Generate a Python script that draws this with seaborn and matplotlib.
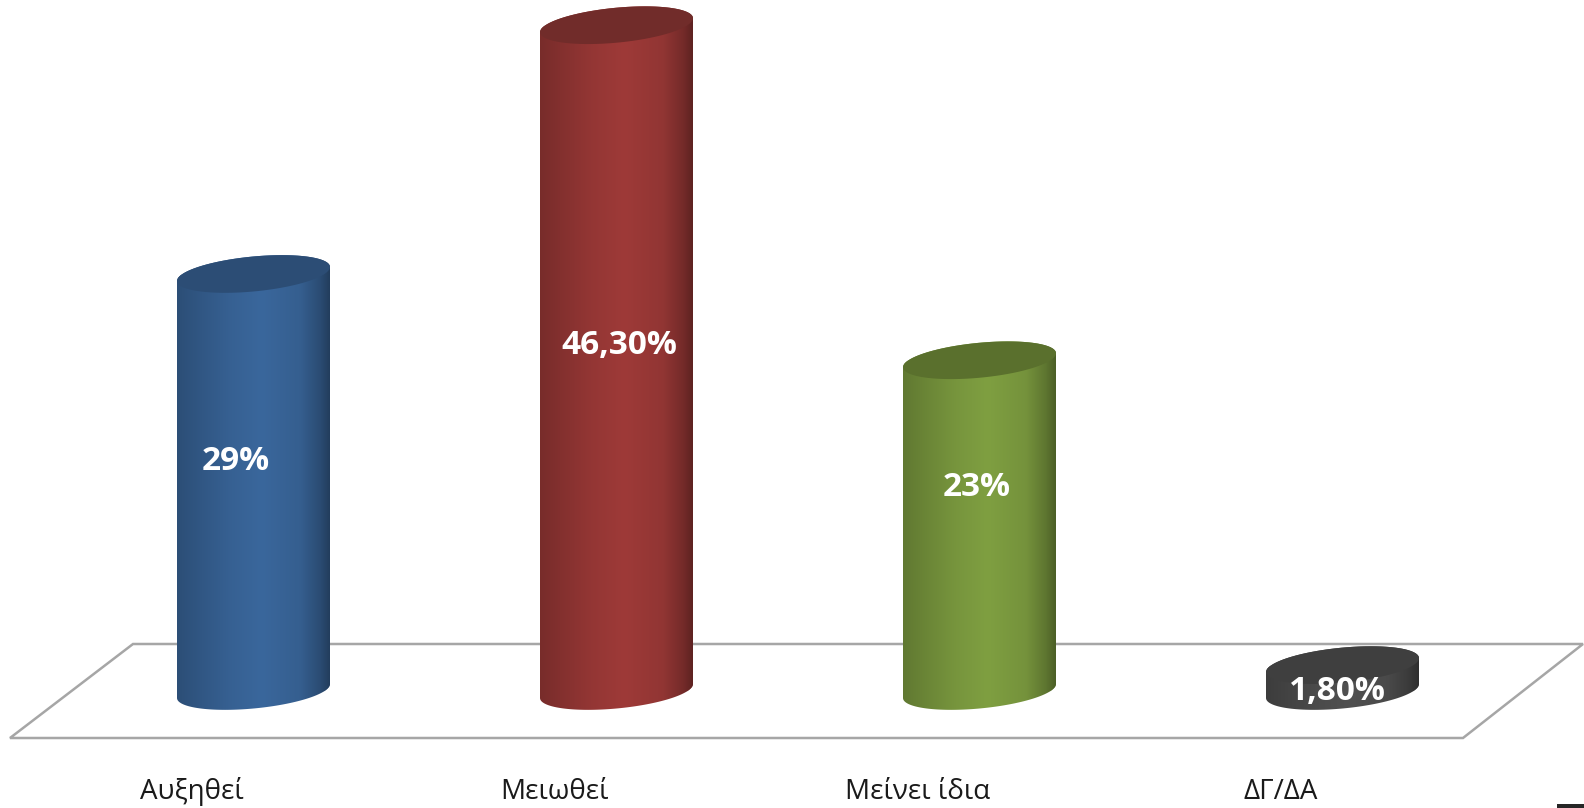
import numpy as np
import pandas as pd
import matplotlib
matplotlib.use("Agg")
import matplotlib.pyplot as plt
import seaborn as sns
from matplotlib.colors import LinearSegmentedColormap, to_rgb
from matplotlib.patches import PathPatch, Polygon
from matplotlib.path import Path

categories = ["Αυξηθεί", "Μειωθεί", "Μείνει ίδια", "ΔΓ/ΔΑ"]
values = [29, 46.3, 23, 1.8]
value_labels = ["29%", "46,30%", "23%", "1,80%"]
body_colours = ["#3a679c", "#9e3a38", "#7f9f41", "#505050"]
top_colours = ["#2c4d75", "#712c2a", "#5a702d", "#3f3f3f"]

W, H = 1584, 808
PX_X = 363          # pixels per category
PX_Y = 14.38        # pixels per percent
X0_PX, Y0_PX = 253.5, 691
ELL_B, ELL_K = 17.5, 7    # ellipse half height and tilt, px
N = 80

def px(x, y):
    return (x - X0_PX) / PX_X, (Y0_PX - y) / PX_Y

sns.set_theme(style="white")
plt.rcParams["font.family"] = ["Open Sans", "DejaVu Sans"]

fig = plt.figure(figsize=(W / 100, H / 100), dpi=100)
ax = fig.add_axes([0, 0, 1, 1])

df = pd.DataFrame({"cat": categories, "val": values})
sns.barplot(data=df, x="cat", y="val", hue="cat", palette=body_colours,
            width=153 / PX_X, legend=False, ax=ax, zorder=3)

xlim = (px(0, 0)[0], px(W, 0)[0])
ylim = (px(0, H)[1], px(0, 0)[1])

# floor
floor = [px(10, 738), px(133, 644), px(1583, 644), px(1463, 738)]
ax.add_patch(Polygon(floor, closed=True, facecolor="white", edgecolor="#a6a6a6",
                     lw=1.8, zorder=1))

def arc(cx, cy, a, t0, t1):
    t = np.linspace(t0, t1, N)
    return np.column_stack([cx + a * np.cos(t),
                            cy + (ELL_B * np.sin(t) + ELL_K * np.cos(t)) / PX_Y])

shades = [(0, 0.76), (0.15, 0.84), (0.35, 0.94), (0.55, 1.0), (0.80, 0.92),
          (0.93, 0.74), (1, 0.58)]

for bar, col, top_col in zip(ax.patches, body_colours, top_colours):
    cx = bar.get_x() + bar.get_width() / 2
    a = bar.get_width() / 2
    h = bar.get_height()
    # cylinder outline from the bar geometry
    pts = np.vstack([arc(cx, 0, a, np.pi, 2 * np.pi), arc(cx, h, a, 0, np.pi)])
    outline = Path(np.vstack([pts, pts[0]]), closed=True)
    bar.set_clip_path(outline, ax.transData)
    rgb = np.array(to_rgb(col))
    cmap = LinearSegmentedColormap.from_list(
        "cyl", [(p, tuple(rgb * s)) for p, s in shades])
    im = ax.imshow(np.linspace(0, 1, 256)[None, :], cmap=cmap, aspect="auto",
                   extent=[cx - a, cx + a, -30 / PX_Y, h + 30 / PX_Y],
                   zorder=4, interpolation="bilinear")
    im.set_clip_path(outline, ax.transData)
    top = arc(cx, h, a, 0, 2 * np.pi)
    ax.add_patch(PathPatch(Path(top, closed=True), facecolor=top_col,
                           edgecolor="none", zorder=5))

# value labels, placed by hand as in the source
label_px = [(236, 461), (619, 345), (977, 487), (1337, 691)]
for txt, (lx, ly) in zip(value_labels, label_px):
    x, y = px(lx, ly)
    ax.text(x, y, txt, color="white", fontsize=24, fontweight="bold",
            ha="center", va="center", zorder=6)

for i, c in enumerate(categories):
    x, y = px(X0_PX + i * PX_X - 62, 792)
    ax.text(x, y, c, color="#1a1a1a", fontsize=20, ha="center", va="center")

# small dark mark in the corner of the source
ax.add_patch(Polygon([px(1557, 804), px(1584, 804), px(1584, 808), px(1557, 808)],
                     closed=True, facecolor="#262626", edgecolor="none"))

ax.set_xlim(xlim)
ax.set_ylim(ylim)
ax.axis("off")
fig.savefig("out.png", dpi=100, facecolor="white")
